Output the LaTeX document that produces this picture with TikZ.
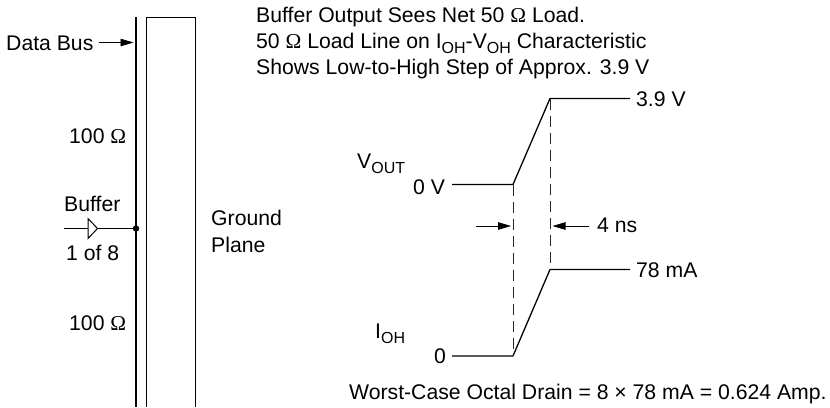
\documentclass[tikz,border=0pt]{standalone}
\usepackage{fontspec}
\setmainfont{Liberation Sans}
\newfontfamily\omfont{Liberation Serif}
\usetikzlibrary{arrows.meta}
\newcommand{\subtxt}[1]{\raisebox{-0.28em}{\fontsize{16}{16}\selectfont #1}}
\newcommand{\ohm}{{\omfont Ω}}
\tikzset{
  x=1pt,y=-1pt,
  lbl/.style={font=\fontsize{21.2}{24}\selectfont,inner sep=0pt,text=black,anchor=base west},
  wire/.style={line width=1.3pt,black},
  thin wire/.style={line width=1pt,black},
  dashline/.style={line width=0.8pt,black!85,dash pattern=on 11.5pt off 5.5pt},
  pointer/.style={line width=0.8pt,black,-{Triangle[length=13pt,width=7.5pt]},shorten >=0pt},
}
\begin{document}
\begin{tikzpicture}
\useasboundingbox (0,0) rectangle (830,407);
% bus and ground plane
\coordinate (bust) at (136,17);
\coordinate (busb) at (136,407);
\coordinate (gbl) at (146,407);
\coordinate (gtl) at (146,17);
\coordinate (gtr) at (195,17);
\coordinate (gbr) at (195,407);
\draw[wire] (bust) -- (busb);
\draw[thin wire] (gbl) -- (gtl) -- (gtr) -- (gbr);
% labels left
\node[lbl] (databus) at (6,50) {Data Bus};
\coordinate (dbend) at (133.5,42.5);
\draw[pointer] (99,42.5) -- (dbend);
\node[lbl] (r1) at (69,143) {100 \ohm};
\node[lbl] (buf) at (64,211) {Buffer};
\node[lbl] (oneof) at (66,260) {1 of 8};
\node[lbl] (r2) at (69,330) {100 \ohm};
\node[lbl] (gp1) at (211,225) {Ground};
\node[lbl] (gp2) at (211,252) {Plane};
% buffer
\coordinate (bufin) at (64,228.5);
\coordinate (bufa) at (88,228.5);
\coordinate (bufb) at (97.5,228.5);
\fill (136,228.5) circle (3.2pt) coordinate (dot);
\draw[thin wire] (bufin) -- (bufa);
\draw[thin wire] (bufb) -- (dot);
\draw[thin wire,line join=miter] (88,218.5) -- (97.5,228.5) -- (88,238.5) -- cycle;
% top text
\node[lbl] (t1) at (256,22) {Buffer Output Sees Net 50 \ohm\ Load.};
\node[lbl] (t2) at (256,48) {50 \ohm\ Load Line on I\subtxt{OH}-V\subtxt{OH} Characteristic};
\node[lbl] (t3) at (256,74) {Shows Low-to-High Step of Approx. 3.9 V};
% waveforms
\coordinate (v0) at (452,184.5);
\coordinate (v1) at (513,184.5);
\coordinate (v2) at (550,98.5);
\coordinate (v3) at (630,98.5);
\coordinate (i0) at (452,356);
\coordinate (i1) at (513,356);
\coordinate (i2) at (550,269.5);
\coordinate (i3) at (630,269.5);
\draw[wire,line join=round] (v0) -- (v1) -- (v2) -- (v3);
\draw[wire,line join=round] (i0) -- (i1) -- (i2) -- (i3);
\draw[dashline] (v1) -- (i1);
\draw[dashline] (v2) -- (i2);
\coordinate (al) at (511,226);
\coordinate (ar) at (552.5,226);
\draw[pointer] (476,226) -- (al);
\draw[pointer] (589,226) -- (ar);
\node[lbl] (fourns) at (597,232) {4 ns};
\node[lbl] (v39) at (636,106) {3.9 V};
\node[lbl] (ma) at (636,277) {78 mA};
\node[lbl] (vout) at (357,168) {V\subtxt{OUT}};
\node[lbl] (zv) at (413,194) {0 V};
\node[lbl] (ioh) at (375,338) {I\subtxt{OH}};
\node[lbl] (zero) at (434,363) {0};
\node[lbl] (wc) at (349,399) {Worst-Case Octal Drain = 8 × 78 mA = 0.624 Amp.};
\end{tikzpicture}
\end{document}
